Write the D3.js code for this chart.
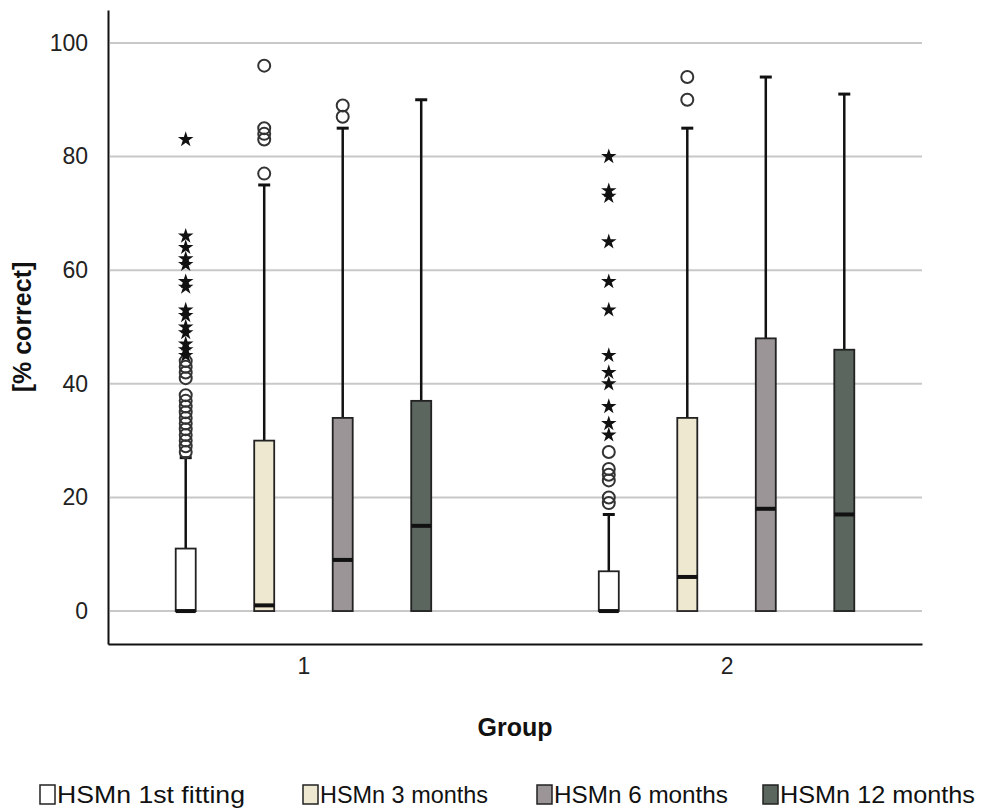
<!DOCTYPE html>
<html>
<head>
<meta charset="utf-8">
<script src="https://cdn.jsdelivr.net/npm/d3@7"></script>
<style>
  body { margin: 0; background: #fff; }
  svg { font-family: "Liberation Sans", Arial, sans-serif; }
</style>
</head>
<body>
<svg id="chart" width="987" height="810" viewBox="0 0 987 810"></svg>
<script>
// Data
const groups = ["1", "2"];
const series = ["HSMn 1st fitting", "HSMn 3 months", "HSMn 6 months", "HSMn 12 months"];
const q1s = [[0, 0, 0, 0], [0, 0, 0, 0]];
const medians = [[0, 1, 9, 15], [0, 6, 18, 17]];
const q3s = [[11, 30, 34, 37], [7, 34, 48, 46]];
const whiskerLow = [[0, 0, 0, 0], [0, 0, 0, 0]];
const whiskerHigh = [[27, 75, 85, 90], [17, 85, 94, 91]];
const outliers = [
    [[28, 29, 30, 31, 32, 33, 34, 35, 36, 37, 38, 41, 42, 43, 44], [77, 83, 84, 85, 96], [87, 89], []],
    [[19, 20, 23, 24, 25, 28], [90, 94], [], []]
];
const extremes = [
    [[45, 46, 47, 49, 50, 52, 53, 57, 58, 61, 62, 64, 66, 83], [], [], []],
    [[31, 33, 36, 40, 42, 45, 53, 58, 65, 73, 74, 80], [], [], []]
];
const yTicks = [0, 20, 40, 60, 80, 100];

const fills = ["#ffffff", "#efe8d0", "#9b9597", "#5b665f"];

const svg = d3.select("#chart");
const plotLeft = 108, plotRight = 922, plotTop = 10, plotBottom = 644;

const y = d3.scaleLinear().domain([-5.8, 105.8]).range([plotBottom, plotTop]);
const x = d3.scalePoint().domain(groups).range([plotLeft, plotRight]).padding(0.462);
const xs = d3.scaleBand().domain(series).range([-157, 157]);
const boxW = 20;

// gridlines
svg.append("g")
    .selectAll("line")
    .data(yTicks)
    .enter()
    .append("line")
    .attr("x1", plotLeft + 2)
    .attr("x2", plotRight)
    .attr("y1", d => y(d))
    .attr("y2", d => y(d))
    .attr("stroke", "#c8c8c8")
    .attr("stroke-width", 2);

// y axis
const yAxis = svg.append("g")
    .attr("transform", `translate(${plotLeft},0)`)
    .call(d3.axisLeft(y).tickValues(yTicks).tickSize(0).tickPadding(20));
yAxis.select(".domain").attr("stroke", "#111").attr("stroke-width", 2);
yAxis.selectAll("text").attr("font-size", 23).attr("fill", "#222");

// x axis
const xAxis = svg.append("g")
    .attr("transform", `translate(0,${plotBottom})`)
    .call(d3.axisBottom(x).tickSize(0).tickPadding(14));
xAxis.select(".domain").attr("stroke", "#111").attr("stroke-width", 2);
xAxis.selectAll("text").attr("font-size", 23).attr("fill", "#222");

// axis titles
svg.append("text")
    .attr("transform", `translate(31,${(plotTop + plotBottom) / 2}) rotate(-90)`)
    .attr("text-anchor", "middle")
    .attr("font-size", 25)
    .attr("font-weight", "bold")
    .attr("fill", "#111")
    .text("[% correct]");

svg.append("text")
    .attr("x", (plotLeft + plotRight) / 2)
    .attr("y", 736)
    .attr("text-anchor", "middle")
    .attr("font-size", 25)
    .attr("font-weight", "bold")
    .attr("fill", "#111")
    .text("Group");

// box records
const boxes = [];
groups.forEach((g, gi) => {
    series.forEach((s, si) => {
        boxes.push({
            group: g, series: s, si: si,
            q1: q1s[gi][si], median: medians[gi][si], q3: q3s[gi][si],
            lo: whiskerLow[gi][si], hi: whiskerHigh[gi][si],
            outliers: outliers[gi][si], extremes: extremes[gi][si]
        });
    });
});
const cx = d => x(d.group) + xs(d.series) + xs.bandwidth() / 2;

const box_groups = svg.append("g")
    .selectAll(".box")
    .data(boxes)
    .enter()
    .append("g")
    .attr("class", "box");

// whiskers
box_groups.append("line")
    .attr("x1", cx).attr("x2", cx)
    .attr("y1", d => y(d.q3)).attr("y2", d => y(d.hi))
    .attr("stroke", "#111").attr("stroke-width", 2.5);
box_groups.append("line")
    .attr("x1", d => cx(d) - 6).attr("x2", d => cx(d) + 6)
    .attr("y1", d => y(d.hi)).attr("y2", d => y(d.hi))
    .attr("stroke", "#111").attr("stroke-width", 3);

// boxes
box_groups.append("rect")
    .attr("x", d => cx(d) - boxW / 2)
    .attr("width", boxW)
    .attr("y", d => y(d.q3))
    .attr("height", d => y(d.q1) - y(d.q3))
    .attr("fill", d => fills[d.si])
    .attr("stroke", "#222")
    .attr("stroke-width", 1.8);

// medians
box_groups.append("line")
    .attr("x1", d => cx(d) - boxW / 2).attr("x2", d => cx(d) + boxW / 2)
    .attr("y1", d => y(d.median)).attr("y2", d => y(d.median))
    .attr("stroke", "#111").attr("stroke-width", 4);

// outliers (circles)
box_groups.selectAll(".out")
    .data(d => d.outliers.map(v => ({ v: v, cx: cx(d) })))
    .enter()
    .append("circle")
    .attr("class", "out")
    .attr("cx", d => d.cx)
    .attr("cy", d => y(d.v))
    .attr("r", 6)
    .attr("fill", "none")
    .attr("stroke", "#333")
    .attr("stroke-width", 2);

// extremes (stars)
const star = d3.symbol().type(d3.symbolStar).size(75);
box_groups.selectAll(".ext")
    .data(d => d.extremes.map(v => ({ v: v, cx: cx(d) })))
    .enter()
    .append("path")
    .attr("class", "ext")
    .attr("transform", d => `translate(${d.cx},${y(d.v)})`)
    .attr("d", star)
    .attr("fill", "#111");

// legend
const legendX = [40, 303, 537, 763];
const legendW = [188, 168, 174, 195];
const legend = svg.append("g")
    .selectAll(".legend-item")
    .data(series)
    .enter()
    .append("g")
    .attr("class", "legend-item")
    .attr("transform", (d, i) => `translate(${legendX[i]},785)`);
legend.append("rect")
    .attr("width", 15).attr("height", 19)
    .attr("fill", (d, i) => fills[i])
    .attr("stroke", "#222").attr("stroke-width", 1.5);
legend.append("text")
    .attr("x", 17)
    .attr("y", 18)
    .attr("font-size", 24)
    .attr("fill", "#111")
    .attr("textLength", (d, i) => legendW[i])
    .attr("lengthAdjust", "spacingAndGlyphs")
    .text(d => d);
</script>
</body>
</html>
